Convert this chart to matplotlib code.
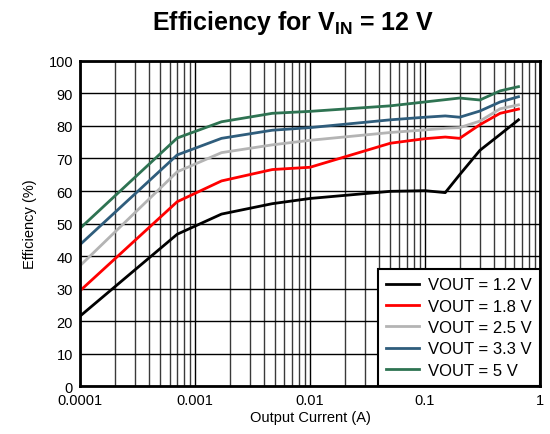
import matplotlib.pyplot as plt
from matplotlib.ticker import FixedLocator, FixedFormatter, LogLocator, NullFormatter

plt.rcParams['font.family'] = ['Liberation Sans', 'DejaVu Sans']
plt.rcParams['mathtext.fontset'] = 'custom'
plt.rcParams['mathtext.rm'] = 'Liberation Sans'
plt.rcParams['mathtext.bf'] = 'Liberation Sans:bold'

current = [0.0001, 0.0007, 0.0017, 0.0047, 0.01, 0.05, 0.1, 0.15, 0.2, 0.3, 0.45, 0.65]

eff_1v2 = [21.5, 46.7, 52.9, 56.1, 57.7, 59.9, 60.1, 59.5, 65.0, 72.5, 77.4, 81.9]
eff_1v8 = [29.3, 56.7, 63.1, 66.6, 67.3, 74.7, 76.1, 76.6, 76.2, 80.4, 83.9, 85.2]
eff_2v5 = [37.0, 65.9, 71.8, 74.2, 75.6, 78.0, 78.8, 79.3, 79.5, 81.5, 85.3, 86.5]
eff_3v3 = [43.5, 71.1, 76.2, 78.7, 79.5, 81.9, 82.7, 83.1, 82.7, 84.6, 87.4, 89.0]
eff_5v0 = [48.5, 76.3, 81.3, 83.9, 84.5, 86.2, 87.4, 88.1, 88.6, 88.0, 90.8, 92.1]

labels = ['VOUT = 1.2 V', 'VOUT = 1.8 V', 'VOUT = 2.5 V', 'VOUT = 3.3 V', 'VOUT = 5 V']
colors = ['#000000', '#FF0000', '#B4B4B4', '#2F5D7C', '#2E7352']
x_ticks = [0.0001, 0.001, 0.01, 0.1, 1]
x_tick_labels = ['0.0001', '0.001', '0.01', '0.1', '1']

fig = plt.figure(figsize=(5.5, 4.35), dpi=100)
ax = fig.add_axes([0.1455, 0.1103, 0.8363, 0.7472])

for ys, lab, c in zip([eff_1v2, eff_1v8, eff_2v5, eff_3v3, eff_5v0], labels, colors):
    ax.plot(current, ys, color=c, lw=2, label=lab, zorder=3)

ax.set_xscale('log')
ax.set_xlim(0.0001, 1)
ax.set_ylim(0, 100)
ax.xaxis.set_major_locator(FixedLocator(x_ticks))
ax.xaxis.set_major_formatter(FixedFormatter(x_tick_labels))
ax.xaxis.set_minor_locator(LogLocator(base=10, subs=range(2, 10)))
ax.xaxis.set_minor_formatter(NullFormatter())
ax.set_yticks(range(0, 101, 10))

ax.grid(True, which='major', color='black', lw=1.0)
ax.grid(True, which='minor', axis='x', color='#3a3a3a', lw=1.0)
ax.tick_params(which='both', length=0, labelsize=10.5, pad=5)
for s in ax.spines.values():
    s.set_linewidth(2)
    s.set_zorder(4)

ax.set_xlabel('Output Current (A)', fontsize=10.5, labelpad=2)
ax.set_ylabel('Efficiency (%)', fontsize=10.5, labelpad=8)
fig.text(0.532, 0.947, r'Efficiency for V$_{\mathbf{IN}}$ = 12 V', ha='center', va='center',
         fontsize=18, fontweight='bold')

leg = ax.legend(loc='lower right', borderaxespad=0, fontsize=12, handlelength=1.95,
                fancybox=False, framealpha=1, edgecolor='black', labelspacing=0.38,
                borderpad=0.5, handletextpad=0.55)
leg.get_frame().set_linewidth(1.5)
leg.set_zorder(5)

fig.savefig('out.png', dpi=100)
